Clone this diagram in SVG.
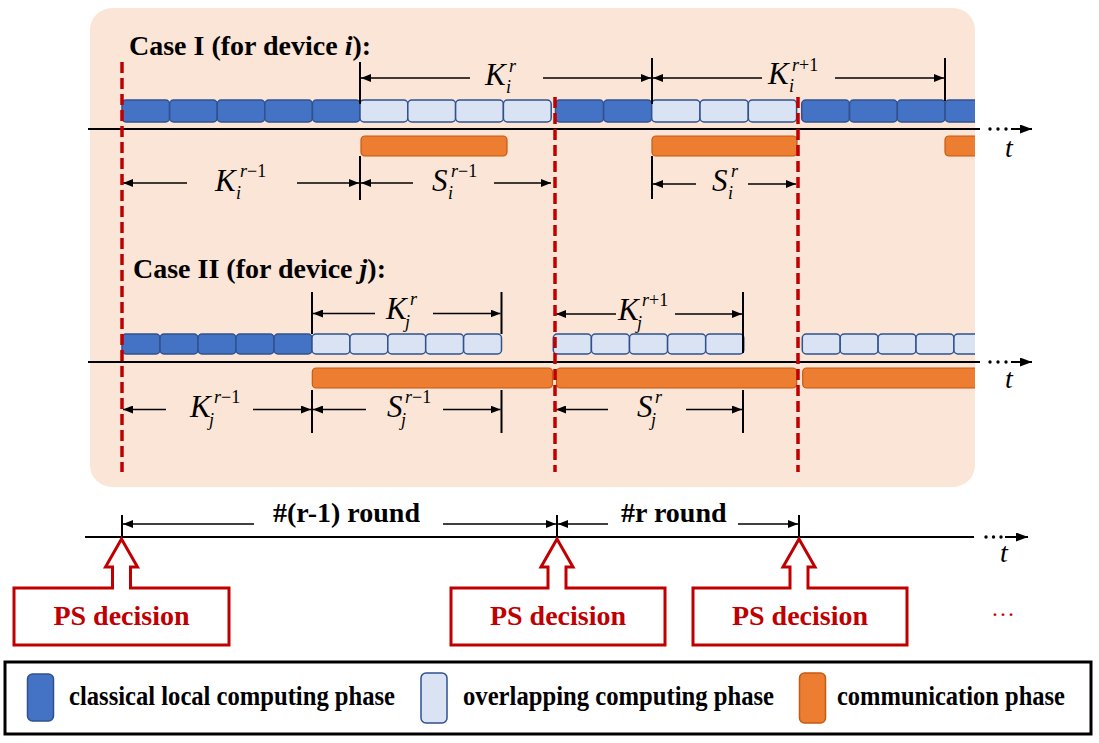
<svg xmlns="http://www.w3.org/2000/svg" width="1099" height="743" viewBox="0 0 1099 743">
<defs>
<style>
.bold{font-family:"Liberation Serif","Times New Roman",serif;font-weight:bold;font-size:28px;fill:#000}
.bi{font-style:italic}
.m{font-family:"Liberation Serif","Times New Roman",serif;font-style:italic;font-size:31px;fill:#000}
.s{font-family:"Liberation Serif","Times New Roman",serif;font-style:italic;font-size:18px;fill:#000}
.up{font-style:normal}
.dk{fill:#4472C4;stroke:#2F528F;stroke-width:1.5}
.lt{fill:#DAE3F3;stroke:#2F528F;stroke-width:1.5}
.or{fill:#ED7D31;stroke:#C55A11;stroke-width:1.2}
.dim{stroke:#000;stroke-width:1.6;fill:none;marker-end:url(#ah)}
.tick{stroke:#000;stroke-width:2}
.axis{stroke:#000;stroke-width:2;fill:none}
.axa{stroke:#000;stroke-width:2;fill:none;marker-end:url(#ax)}
.red{stroke:#C00000;stroke-width:3.5;stroke-dasharray:11 5;fill:none}
.callout{fill:#fff;stroke:#C00000;stroke-width:3}
.ps{font-family:"Liberation Serif","Times New Roman",serif;font-weight:bold;font-size:28px;fill:#C00000;text-anchor:middle}
.lg{font-family:"Liberation Serif","Times New Roman",serif;font-weight:bold;font-size:28px;fill:#000}
.t{font-family:"Liberation Serif","Times New Roman",serif;font-style:italic;font-size:28px;fill:#000}
</style>
<marker id="ah" markerUnits="userSpaceOnUse" viewBox="0 0 10 8" refX="10" refY="4" markerWidth="10" markerHeight="8" orient="auto"><path d="M0,0 L10,4 L0,8 z" fill="#000"/></marker>
<marker id="ax" markerUnits="userSpaceOnUse" viewBox="0 0 12 9" refX="12" refY="4.5" markerWidth="12" markerHeight="9" orient="auto"><path d="M0,0 L12,4.5 L0,9 z" fill="#000"/></marker>
<clipPath id="bgclip"><rect x="80" y="0" width="895" height="500"/></clipPath>
</defs>

<g id="background">
<rect x="90" y="8" width="885" height="479" rx="22" ry="22" fill="#FBE5D6"/>
</g>

<g id="case1">
<text class="bold" x="129" y="55">Case I (for device <tspan class="bi">i</tspan>):</text>
<g clip-path="url(#bgclip)">
<rect class="dk" x="122" y="100" width="47.6" height="22" rx="4"/>
<rect class="dk" x="169.6" y="100" width="47.6" height="22" rx="4"/>
<rect class="dk" x="217.2" y="100" width="47.6" height="22" rx="4"/>
<rect class="dk" x="264.8" y="100" width="47.6" height="22" rx="4"/>
<rect class="dk" x="312.4" y="100" width="47.6" height="22" rx="4"/>
<rect class="lt" x="360" y="100" width="47.8" height="22" rx="4"/>
<rect class="lt" x="407.8" y="100" width="47.8" height="22" rx="4"/>
<rect class="lt" x="455.6" y="100" width="47.8" height="22" rx="4"/>
<rect class="lt" x="503.4" y="100" width="47.8" height="22" rx="4"/>
<rect class="dk" x="555.5" y="100" width="48.1" height="22" rx="4"/>
<rect class="dk" x="603.6" y="100" width="48.1" height="22" rx="4"/>
<rect class="lt" x="651.7" y="100" width="48.3" height="22" rx="4"/>
<rect class="lt" x="700" y="100" width="48.3" height="22" rx="4"/>
<rect class="lt" x="748.3" y="100" width="48.3" height="22" rx="4"/>
<rect class="dk" x="801.7" y="100" width="47.8" height="22" rx="4"/>
<rect class="dk" x="849.5" y="100" width="47.8" height="22" rx="4"/>
<rect class="dk" x="897.3" y="100" width="47.8" height="22" rx="4"/>
<rect class="dk" x="945.1" y="100" width="47.8" height="22" rx="4"/>
<rect class="or" x="361" y="136" width="146" height="20" rx="4"/>
<rect class="or" x="652" y="136" width="145" height="20" rx="4"/>
<rect class="or" x="945" y="136" width="60" height="20" rx="4"/>
</g>
<line class="axis" x1="88" y1="129" x2="980" y2="129"/>
<circle cx="990" cy="129" r="1.7"/><circle cx="998" cy="129" r="1.7"/><circle cx="1006" cy="129" r="1.7"/>
<line class="axa" x1="1011" y1="129" x2="1032" y2="129"/>
<text class="t" x="1005" y="157">t</text>
<text class="m" x="485" y="85">K</text><text class="s" x="509" y="72">r</text><text class="s" x="506" y="93">i</text>
<text class="m" x="768" y="84">K</text><text class="s" x="792" y="71">r<tspan class="up">+1</tspan></text><text class="s" x="789" y="92">i</text>
<text class="m" x="215" y="191">K</text><text class="s" x="240" y="177">r<tspan class="up">−1</tspan></text><text class="s" x="236" y="199">i</text>
<text class="m" x="432" y="191">S</text><text class="s" x="451" y="177">r<tspan class="up">−1</tspan></text><text class="s" x="448" y="199">i</text>
<text class="m" x="712" y="191">S</text><text class="s" x="731" y="177">r</text><text class="s" x="728" y="199">i</text>
</g>

<g id="case2">
<text class="bold" x="133" y="278">Case II (for device <tspan class="bi">j</tspan>):</text>
<g clip-path="url(#bgclip)">
<rect class="dk" x="122" y="334" width="38" height="20" rx="4"/>
<rect class="dk" x="160" y="334" width="38" height="20" rx="4"/>
<rect class="dk" x="198" y="334" width="38" height="20" rx="4"/>
<rect class="dk" x="236" y="334" width="38" height="20" rx="4"/>
<rect class="dk" x="274" y="334" width="38" height="20" rx="4"/>
<rect class="lt" x="312" y="334" width="37.9" height="20" rx="4"/>
<rect class="lt" x="349.9" y="334" width="37.9" height="20" rx="4"/>
<rect class="lt" x="387.8" y="334" width="37.9" height="20" rx="4"/>
<rect class="lt" x="425.7" y="334" width="37.9" height="20" rx="4"/>
<rect class="lt" x="463.6" y="334" width="37.9" height="20" rx="4"/>
<rect class="lt" x="553.3" y="334" width="38.1" height="20" rx="4"/>
<rect class="lt" x="591.4" y="334" width="38.1" height="20" rx="4"/>
<rect class="lt" x="629.5" y="334" width="38.1" height="20" rx="4"/>
<rect class="lt" x="667.6" y="334" width="38.1" height="20" rx="4"/>
<rect class="lt" x="705.7" y="334" width="38.1" height="20" rx="4"/>
<rect class="lt" x="802.3" y="334" width="37.9" height="20" rx="4"/>
<rect class="lt" x="840.2" y="334" width="37.9" height="20" rx="4"/>
<rect class="lt" x="878.1" y="334" width="37.9" height="20" rx="4"/>
<rect class="lt" x="916" y="334" width="37.9" height="20" rx="4"/>
<rect class="lt" x="953.9" y="334" width="37.9" height="20" rx="4"/>
<rect class="or" x="312.3" y="368" width="240.2" height="20" rx="4"/>
<rect class="or" x="556.5" y="368" width="240.2" height="20" rx="4"/>
<rect class="or" x="802.7" y="368" width="200" height="20" rx="4"/>
</g>
<line class="axis" x1="88" y1="362" x2="980" y2="362"/>
<circle cx="990" cy="362" r="1.7"/><circle cx="998" cy="362" r="1.7"/><circle cx="1006" cy="362" r="1.7"/>
<line class="axa" x1="1011" y1="362" x2="1032" y2="362"/>
<text class="t" x="1005" y="388">t</text>
<text class="m" x="386" y="319">K</text><text class="s" x="410" y="305">r</text><text class="s" x="405" y="328">j</text>
<text class="m" x="618" y="320">K</text><text class="s" x="642" y="306">r<tspan class="up">+1</tspan></text><text class="s" x="637" y="329">j</text>
<text class="m" x="190" y="417">K</text><text class="s" x="214" y="403">r<tspan class="up">−1</tspan></text><text class="s" x="209" y="426">j</text>
<text class="m" x="387" y="417">S</text><text class="s" x="405" y="403">r<tspan class="up">−1</tspan></text><text class="s" x="401" y="426">j</text>
<text class="m" x="637" y="417">S</text><text class="s" x="655" y="403">r</text><text class="s" x="651" y="426">j</text>
</g>

<g id="round-axis">
<line class="axis" x1="85" y1="537" x2="974" y2="537"/>
<circle cx="986" cy="537" r="1.7"/><circle cx="993.5" cy="537" r="1.7"/><circle cx="1001" cy="537" r="1.7"/>
<line class="axa" x1="1005" y1="537" x2="1028" y2="537"/>
<text class="t" x="1000" y="562">t</text>
<text class="bold" x="273" y="522">#(r-1) round</text>
<text class="bold" x="621" y="522">#r round</text>
</g>

<g id="connectors">
<line class="tick" x1="360" y1="62" x2="360" y2="104"/>
<line class="tick" x1="652" y1="58" x2="652" y2="104"/>
<line class="tick" x1="945" y1="58" x2="945" y2="101"/>
<line class="tick" x1="360" y1="156" x2="360" y2="200"/>
<line class="tick" x1="652" y1="156" x2="652" y2="199"/>
<line class="tick" x1="312" y1="292" x2="312" y2="334"/>
<line class="tick" x1="501.5" y1="292" x2="501.5" y2="334"/>
<line class="tick" x1="743" y1="292" x2="743" y2="353"/>
<line class="tick" x1="312" y1="390" x2="312" y2="433"/>
<line class="tick" x1="501.5" y1="390" x2="501.5" y2="433"/>
<line class="tick" x1="743" y1="390" x2="743" y2="433"/>
<line class="tick" x1="122" y1="515" x2="122" y2="537"/>
<line class="tick" x1="557" y1="515" x2="557" y2="537"/>
<line class="tick" x1="799" y1="515" x2="799" y2="537"/>
<line class="dim" x1="470" y1="78" x2="361" y2="78"/>
<line class="dim" x1="543" y1="78" x2="651" y2="78"/>
<line class="dim" x1="762" y1="78" x2="653" y2="78"/>
<line class="dim" x1="835" y1="78" x2="944" y2="78"/>
<line class="dim" x1="187" y1="183" x2="123" y2="183"/>
<line class="dim" x1="297" y1="183" x2="359" y2="183"/>
<line class="dim" x1="413" y1="183" x2="361" y2="183"/>
<line class="dim" x1="494" y1="183" x2="551" y2="183"/>
<line class="dim" x1="696" y1="184" x2="653" y2="184"/>
<line class="dim" x1="748" y1="184" x2="796" y2="184"/>
<line class="dim" x1="375" y1="313.5" x2="313" y2="313.5"/>
<line class="dim" x1="433" y1="313.5" x2="500.5" y2="313.5"/>
<line class="dim" x1="616" y1="314" x2="556" y2="314"/>
<line class="dim" x1="675" y1="314" x2="742" y2="314"/>
<line class="dim" x1="166" y1="409.5" x2="123" y2="409.5"/>
<line class="dim" x1="253" y1="409.5" x2="311" y2="409.5"/>
<line class="dim" x1="366" y1="409.5" x2="313" y2="409.5"/>
<line class="dim" x1="443" y1="409.5" x2="500.5" y2="409.5"/>
<line class="dim" x1="608" y1="409.5" x2="556" y2="409.5"/>
<line class="dim" x1="686" y1="409.5" x2="742" y2="409.5"/>
<line class="dim" x1="254" y1="524" x2="123" y2="524"/>
<line class="dim" x1="443" y1="524" x2="556" y2="524"/>
<line class="dim" x1="608" y1="524" x2="558" y2="524"/>
<line class="dim" x1="738" y1="524" x2="798" y2="524"/>
<line class="red" x1="122" y1="62" x2="122" y2="472"/>
<line class="red" x1="555" y1="97" x2="555" y2="472"/>
<line class="red" x1="798" y1="97" x2="798" y2="472"/>
</g>

<g id="ps1">
<path class="callout" d="M14,588 H112.5 V567 H105.5 L121.5,539 L137.5,567 H130.5 V588 H229 V645 H14 Z"/>
<text class="ps" x="121.5" y="625">PS decision</text>
</g>
<g id="ps2">
<path class="callout" d="M451,588 H548 V567 H541 L557,539 L573,567 H566 V588 H665 V645 H451 Z"/>
<text class="ps" x="558" y="625">PS decision</text>
</g>
<g id="ps3">
<path class="callout" d="M693,588 H790 V567 H783 L799,539 L815,567 H808 V588 H907 V645 H693 Z"/>
<text class="ps" x="800" y="625">PS decision</text>
</g>
<text x="991" y="616" font-family="Liberation Serif, serif" font-size="24" fill="#C00000">…</text>

<g id="legend">
<rect x="5" y="662" width="1086" height="72" fill="#fff" stroke="#000" stroke-width="3"/>
<rect class="dk" x="27.5" y="674" width="26" height="47" rx="5"/>
<text class="lg" x="69" y="705" textLength="326" lengthAdjust="spacingAndGlyphs">classical local computing phase</text>
<rect class="lt" x="421" y="673" width="26" height="50" rx="5"/>
<text class="lg" x="463" y="705" textLength="311" lengthAdjust="spacingAndGlyphs">overlapping computing phase</text>
<rect x="799.5" y="673" width="26" height="50" rx="5" fill="#ED7D31" stroke="#C55A11" stroke-width="1.5"/>
<text class="lg" x="837" y="705" textLength="228" lengthAdjust="spacingAndGlyphs">communication phase</text>
</g>
</svg>
